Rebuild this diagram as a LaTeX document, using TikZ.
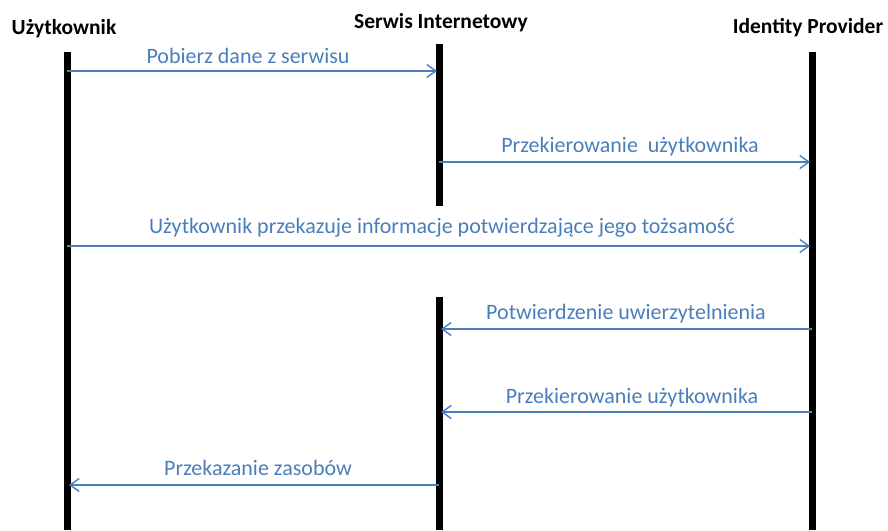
\documentclass[tikz,border=0pt]{standalone}
\usepackage{fontspec}
\setmainfont{Carlito}
\usetikzlibrary{arrows.meta}
\definecolor{msgblue}{HTML}{4A7EBB}
\tikzset{
  lifeline/.style={line width=7pt, black},
  msg/.style={msgblue, line width=1.4pt, -{Straight Barb[length=9pt,width=13pt,line width=1.4pt]}},
  msglabel/.style={text=msgblue, font=\fontsize{22}{24}\selectfont, inner sep=0pt, anchor=base},
  header/.style={font=\bfseries\fontsize{21.5}{24}\selectfont, inner sep=0pt, anchor=base}
}
\begin{document}
\begin{tikzpicture}[x=1pt,y=-1pt]
\useasboundingbox (0,0) rectangle (888,530);
% headers
\node[header] (hU) at (64,34) {Użytkownik};
\node[header] (hS) at (441,28) {Serwis Internetowy};
\node[header] (hI) at (808,33) {Identity Provider};
% lifelines
\coordinate (uTop) at (67,52);
\coordinate (uBot) at (67,530);
\coordinate (sTop) at (439,44);
\coordinate (sMid1) at (439,206);
\coordinate (sMid2) at (439,297);
\coordinate (sBot) at (439,530);
\coordinate (iTop) at (812,52);
\coordinate (iBot) at (812,530);
\draw[lifeline] (uTop) -- (uBot);
\draw[lifeline] (sTop) -- (sMid1);
\draw[lifeline] (sMid2) -- (sBot);
\draw[lifeline] (iTop) -- (iBot);
% message endpoints
\coordinate (m1a) at (67,71);  \coordinate (m1b) at (437,71);
\coordinate (m2a) at (439,162); \coordinate (m2b) at (810,162);
\coordinate (m3a) at (67,246); \coordinate (m3b) at (810,246);
\coordinate (m4a) at (812,329); \coordinate (m4b) at (441,329);
\coordinate (m5a) at (812,412); \coordinate (m5b) at (441,412);
\coordinate (m6a) at (439,485); \coordinate (m6b) at (69,485);
\draw[msg] (m1a) -- (m1b);
\draw[msg] (m2a) -- (m2b);
\draw[msg] (m3a) -- (m3b);
\draw[msg] (m4a) -- (m4b);
\draw[msg] (m5a) -- (m5b);
\draw[msg] (m6a) -- (m6b);
% labels
\node[msglabel] (l1) at (248,63) {Pobierz dane z serwisu};
\node[msglabel] (l2) at (630,152) {Przekierowanie\ \ użytkownika};
\node[msglabel] (l3) at (442,233) {Użytkownik przekazuje informacje potwierdzające jego tożsamość};
\node[msglabel] (l4) at (626,319) {Potwierdzenie uwierzytelnienia};
\node[msglabel] (l5) at (632,403) {Przekierowanie użytkownika};
\node[msglabel] (l6) at (258,475) {Przekazanie zasobów};
\end{tikzpicture}
\end{document}
